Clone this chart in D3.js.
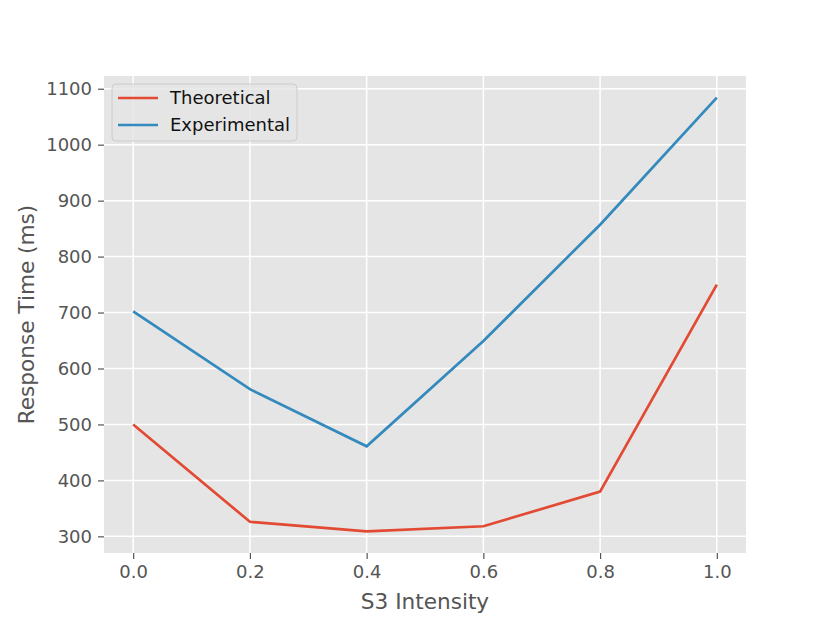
<!DOCTYPE html>
<meta charset="utf-8">
<script src="https://cdn.jsdelivr.net/npm/d3@7"></script>
<style>
body {margin: 0; background: #fff;}
text {font-family: "DejaVu Sans", sans-serif;}
</style>
<div id="vis"></div>
<script>
var intensity = [0.0, 0.2, 0.4, 0.6, 0.8, 1.0];
var theoretical = [500, 326, 309, 318, 380, 750];
var experimental = [702, 563, 461, 649, 857, 1084];
var xTicks = [0.0, 0.2, 0.4, 0.6, 0.8, 1.0];
var yTicks = [300, 400, 500, 600, 700, 800, 900, 1000, 1100];

var width = 830, height = 623;
var margin = {left: 104, right: 84, top: 76, bottom: 70};
var iw = width - margin.left - margin.right,
    ih = height - margin.top - margin.bottom;

var svg = d3.select("#vis").append("svg")
    .attr("width", width)
    .attr("height", height);

// 5% padding like matplotlib
var allY = theoretical.concat(experimental);
var yMin = d3.min(allY), yMax = d3.max(allY), pad = (yMax - yMin) * 0.05;

var x = d3.scaleLinear().domain([-0.05, 1.05]).range([0, iw]);
var y = d3.scaleLinear().domain([yMin - pad, yMax + pad]).range([ih, 0]);

var g = svg.append("g").attr("transform", "translate(" + margin.left + "," + margin.top + ")");

g.append("rect").attr("width", iw).attr("height", ih).attr("fill", "#e5e5e5");

// grid
g.selectAll(".gx").data(xTicks).enter().append("line")
    .attr("x1", d => x(d)).attr("x2", d => x(d))
    .attr("y1", 0).attr("y2", ih)
    .attr("stroke", "#fff").attr("stroke-width", 1.5);
g.selectAll(".gy").data(yTicks).enter().append("line")
    .attr("y1", d => y(d)).attr("y2", d => y(d))
    .attr("x1", 0).attr("x2", iw)
    .attr("stroke", "#fff").attr("stroke-width", 1.5);

// axes
var xAxis = g.append("g").attr("transform", "translate(0," + ih + ")")
    .call(d3.axisBottom(x).tickValues(xTicks).tickFormat(d3.format(".1f")).tickSize(6).tickPadding(6));
var yAxis = g.append("g")
    .call(d3.axisLeft(y).tickValues(yTicks).tickFormat(d3.format("d")).tickSize(6).tickPadding(6));
[xAxis, yAxis].forEach(function (a) {
  a.select(".domain").remove();
  a.selectAll("line").attr("stroke", "#555").attr("stroke-width", 1.2);
  a.selectAll("text").attr("fill", "#555").style("font-size", "18px")
      .style("font-family", "DejaVu Sans, sans-serif");
});

var line = d3.line().x((d, i) => x(intensity[i])).y(d => y(d));

var series = [
  {name: "Theoretical", values: theoretical, color: "#E24A33"},
  {name: "Experimental", values: experimental, color: "#348ABD"}
];

series.forEach(function (s) {
  g.append("path").datum(s.values)
      .attr("d", line)
      .attr("fill", "none")
      .attr("stroke", s.color)
      .attr("stroke-width", 2.7);
});

// legend
var lg = g.append("g").attr("transform", "translate(8,8)");
lg.append("rect").attr("width", 185).attr("height", 57)
    .attr("rx", 4).attr("fill", "#e5e5e5").attr("fill-opacity", 0.8)
    .attr("stroke", "#cccccc").attr("stroke-width", 1);
series.forEach(function (s, i) {
  var yy = 14 + i * 27;
  lg.append("line").attr("x1", 6).attr("x2", 46).attr("y1", yy).attr("y2", yy)
      .attr("stroke", s.color).attr("stroke-width", 2.7);
  lg.append("text").attr("x", 58).attr("y", yy).attr("dy", "0.35em")
      .style("font-size", "18px").attr("fill", "#111").text(s.name);
});

// axis labels
svg.append("text")
    .attr("x", margin.left + iw / 2).attr("y", 609)
    .attr("text-anchor", "middle").attr("fill", "#555")
    .style("font-size", "21.6px").text("S3 Intensity");
svg.append("text")
    .attr("transform", "translate(34," + (margin.top + ih / 2) + ") rotate(-90)")
    .attr("text-anchor", "middle").attr("fill", "#555")
    .style("font-size", "21.6px").text("Response Time (ms)");
</script>
